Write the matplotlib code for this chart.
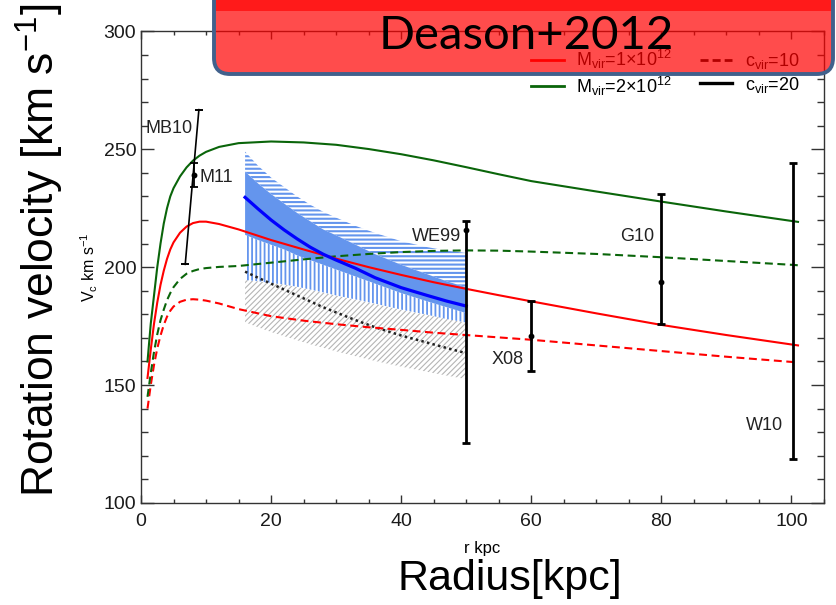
import numpy as np
import matplotlib
matplotlib.use('Agg')
import matplotlib.pyplot as plt
from matplotlib.patches import FancyBboxPatch, Rectangle
from matplotlib.lines import Line2D
from matplotlib.transforms import IdentityTransform
from matplotlib.ticker import MultipleLocator

plt.rcParams['font.family'] = ['Liberation Sans', 'DejaVu Sans']
plt.rcParams['mathtext.fontset'] = 'custom'
plt.rcParams['mathtext.rm'] = 'Liberation Sans'
plt.rcParams['mathtext.it'] = 'Liberation Sans:italic'
plt.rcParams['mathtext.bf'] = 'Liberation Sans:bold'

# ---------------- data ----------------
r_curve = [1, 1.5, 2, 2.5, 3, 3.5, 4, 4.5, 5, 6, 7, 8, 9, 10, 12, 15, 20, 25,
           30, 35, 40, 45, 50, 55, 60, 70, 80, 90, 100, 101]
v_m2_c20 = [160, 176, 188, 200, 210, 218.5, 225, 230, 233.5, 238.5, 242.3, 245.2,
            247.3, 248.9, 251, 252.6, 253.3, 252.9, 251.9, 250.1, 247.9, 245.3,
            242.4, 239.4, 236.5, 232.1, 227.8, 223.6, 219.6, 219.2]
v_m1_c20 = [153, 165, 176, 185, 192.5, 198.5, 203.5, 207.5, 210.5, 214.6, 217.2,
            218.7, 219.3, 219.3, 218.3, 216, 211.5, 207.5, 203.6, 200, 196.7,
            193.6, 190.8, 188.1, 185.5, 180.4, 175.5, 171.2, 167.2, 166.8]
v_m2_c10 = [145, 155, 164, 171.5, 177.5, 182, 186, 189, 191.5, 195, 197.2, 198.4,
            199.2, 199.6, 200.1, 200.5, 201.9, 203.3, 204.6, 205.6, 206.4, 206.9,
            207.1, 207, 206.6, 205.6, 204.2, 202.6, 201, 200.8]
v_m1_c10 = [140, 150, 158.5, 165.5, 171, 175.5, 179, 181.5, 183.3, 185.3, 186.2,
            186.4, 186.2, 185.8, 184.6, 182.2, 179.2, 177.3, 175.8, 174.5, 173.4,
            172.2, 171.2, 170.2, 169.2, 166.8, 164.4, 162, 159.8, 159.6]

band_r = [16, 18, 20, 22, 24, 26, 28, 30, 33, 36, 40, 44, 47, 50]
band_mid = [229.6, 224.7, 220, 215.8, 212, 208.5, 205.5, 203, 199.5, 195.5,
            191.3, 188, 185.6, 183.5]
band_upper2 = [249, 243, 238, 234, 230, 226.5, 223.5, 221, 217.5, 214.5, 211,
               208.5, 207, 206]
band_upper1 = [240.5, 235.5, 231, 227, 223, 219.5, 216, 213.5, 209.5, 205.5, 201,
               197, 194, 191.5]
band_lower1 = [213.7, 211.5, 209.5, 207.5, 205, 203, 201, 199, 196, 193, 189,
               185.5, 183, 180.5]
band_lower2 = [194.6, 194, 193.3, 192.6, 191.7, 190.5, 189.3, 188, 186.3, 184.5,
               182, 179.8, 178, 176.5]
dotted_v = [198.1, 195.5, 193, 190.5, 188, 185.5, 183, 180.8, 177.5, 174.5, 171,
            168, 165.7, 163.5]
gray_low = [176.6, 174.5, 172.5, 170.7, 169, 167.3, 165.8, 164.3, 162.2, 160.2,
            157.8, 155.6, 154, 152.5]

# measurements with error bars
bar_names = ['M11', 'WE99', 'X08', 'G10', 'W10']
bar_r = [8.2, 50, 60, 80, 100.2]
bar_lo = [234.1, 125.4, 155.8, 175.8, 118.7]
bar_hi = [244.3, 219.6, 185.5, 231.1, 244.3]
bar_dot = [239.1, 215.8, 170.8, 193.5, np.nan]
# MB10: a tilted range
mb10_r = [6.8, 8.9]
mb10_v = [201.2, 266.8]

# labels of measurements
lab_text = ['MB10', 'M11', 'WE99', 'X08', 'G10', 'W10']
lab_r = [4.3, 9.0, 49.2, 56.3, 76.3, 95.9]
lab_v = [259, 238, 213, 160.7, 213.2, 133]
lab_ha = ['center', 'left', 'right', 'center', 'center', 'center']

x_ticks = [0, 20, 40, 60, 80, 100]
y_ticks = [100, 150, 200, 250, 300]

# ---------------- figure ----------------
W, H = 836, 605
fig = plt.figure(figsize=(W / 100, H / 100), dpi=100)
ax = fig.add_axes([141 / W, 1 - 502.9 / H, (824 - 141) / W, (502.9 - 31.4) / H])
ax.set_xlim(0, 105)
ax.set_ylim(100, 300)

cblue = '#6495ed'
red = '#ff0000'
green = '#0a650a'

with plt.rc_context({'hatch.linewidth': 0.8}):
    ax.fill_between(band_r, gray_low, band_lower2, facecolor='none',
                    edgecolor='#b5b5b5', hatch='//////', linewidth=0, zorder=1)
with plt.rc_context({'hatch.linewidth': 1.3}):
    ax.fill_between(band_r, band_lower2, band_lower1, facecolor='white',
                    edgecolor=cblue, hatch='||||', linewidth=0, zorder=2)
with plt.rc_context({'hatch.linewidth': 1.5}):
    ax.fill_between(band_r, band_upper1, band_upper2, facecolor='none',
                    edgecolor=cblue, hatch='----', linewidth=0, zorder=2)
ax.fill_between(band_r, band_lower1, band_upper1, facecolor=cblue, linewidth=0,
                zorder=2)

dash = (0, (3.8, 2.2))
ax.plot(band_r, dotted_v, color='#222222', lw=1.8, ls=(0, (1, 1.3)), zorder=3)
ax.plot(r_curve, v_m1_c10, color=red, lw=1.5, ls=dash, zorder=3)
ax.plot(r_curve, v_m2_c10, color=green, lw=1.5, ls=dash, zorder=3)
ax.plot(r_curve, v_m1_c20, color=red, lw=1.5, zorder=3)
ax.plot(r_curve, v_m2_c20, color=green, lw=1.5, zorder=3)
ax.plot(band_r, band_mid, color='#0000ff', lw=2.3, zorder=4)

# error bars
ax.plot(mb10_r, mb10_v, color='black', lw=1.2, zorder=5)
ax.plot(mb10_r, mb10_v, ls='none', marker='_', ms=6, mew=1.4, color='black',
        zorder=5)
for i, name in enumerate(bar_names):
    thin = name == 'M11'
    lo, hi, d = bar_lo[i], bar_hi[i], bar_dot[i]
    c = d if np.isfinite(d) else 0.5 * (lo + hi)
    ax.errorbar([bar_r[i]], [c], yerr=[[c - lo], [hi - c]],
                fmt='o' if np.isfinite(d) else 'none', ms=3.2, color='black',
                ecolor='black', elinewidth=1.3 if thin else 2.0,
                capsize=2.6 if thin else 3.2, capthick=1.3 if thin else 2.0,
                zorder=5)
for t, x, y, ha in zip(lab_text, lab_r, lab_v, lab_ha):
    ax.text(x, y, t, ha=ha, va='center', fontsize=13, color='#222222', zorder=6)

# axes styling
ax.set_xticks(x_ticks)
ax.set_yticks(y_ticks)
ax.xaxis.set_minor_locator(MultipleLocator(5))
ax.yaxis.set_minor_locator(MultipleLocator(10))
ax.tick_params(which='both', direction='in', top=True, right=True,
               colors='#333333', labelcolor='#1a1a1a', width=1.0)
ax.tick_params(axis='y', which='major', length=9.4, pad=3.5, labelsize=14)
ax.tick_params(axis='y', which='minor', length=5)
ax.tick_params(axis='x', which='major', length=5.8, pad=7, labelsize=14)
ax.tick_params(axis='x', which='minor', length=3)
for s in ax.spines.values():
    s.set_color('#333333')
    s.set_linewidth(1.0)

ax.set_xlabel('r kpc', fontsize=12)
ax.xaxis.set_label_coords(0.5, -0.08)
ax.set_ylabel(r'V$_{\rm c}$ km s$^{-1}$', fontsize=11.5)
ax.yaxis.set_label_coords(-0.06, 0.5)

handles = [Line2D([], [], color=red, lw=2.0),
           Line2D([], [], color=green, lw=2.0),
           Line2D([], [], color='black', lw=2.0, ls=(0, (2.9, 1.45))),
           Line2D([], [], color='black', lw=2.4)]
labels = [r'M$_{\rm vir}$=1×10$^{12}$', r'M$_{\rm vir}$=2×10$^{12}$',
          r'c$_{\rm vir}$=10', r'c$_{\rm vir}$=20']
ax.legend(handles, labels, ncol=2, loc='upper left', frameon=False,
          bbox_to_anchor=(531 / W, 1 - 48 / H), bbox_transform=fig.transFigure,
          borderpad=0, borderaxespad=0, fontsize=13, handlelength=1.8,
          handletextpad=0.7, columnspacing=1.55, labelspacing=0.2)

# big slide labels
fig.text(40 / W, 1 - 250 / H, 'Rotation velocity [km s$^{-1}$]', rotation=90,
         ha='center', va='center', fontsize=32, color='black')
fig.text(510 / W, 1 - 579 / H, 'Radius[kpc]', ha='center', va='center',
         fontsize=31, color='black')

# banner
ident = IdentityTransform()
fig.patches.append(Rectangle((216, H - 11), 616, 12, transform=ident,
                             facecolor='#ff5a5a', edgecolor='none', zorder=9))
fig.patches.append(FancyBboxPatch((214, H - 74), 619, 120,
                                  boxstyle='round,pad=0,rounding_size=16',
                                  transform=ident, facecolor=(1, 0, 0, 0.7),
                                  edgecolor='#41618c', linewidth=2.8, zorder=10))
fig.text(526 / W, 1 - 36 / H, 'Deason+2012', ha='center', va='center',
         fontsize=34, color='black', family=['Lato', 'DejaVu Sans'], zorder=12)

fig.savefig('out.png', dpi=100)
